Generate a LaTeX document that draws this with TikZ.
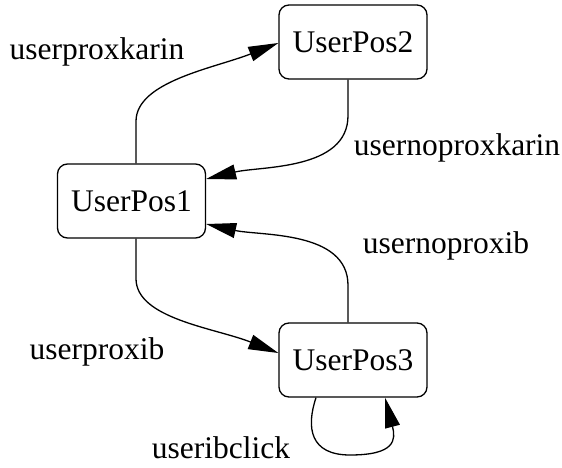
\documentclass[tikz,border=0pt]{standalone}
\usepackage{fontspec}
\setmainfont{Liberation Serif}
\usetikzlibrary{arrows.meta}
\begin{document}
\begin{tikzpicture}[x=1pt,y=-1pt,
  state/.style={draw,line width=1.3pt,rounded corners=10pt,minimum width=148pt,minimum height=74pt,inner sep=0pt,font=\fontsize{31.5}{36}\selectfont},
  lbl/.style={inner sep=0pt,font=\fontsize{31.5}{36}\selectfont},
  edge/.style={line width=1.3pt,-{Triangle[length=30pt,width=15pt]}}]
\useasboundingbox (0,0) rectangle (562,468);
\node[state] (p2) at (353,42) {UserPos2};
\node[state] (p1) at (131.5,201) {UserPos1};
\node[state] (p3) at (353,360) {UserPos3};
\node[lbl] (l1) at (97,52) {userproxkarin};
\node[lbl] (l2) at (457,148) {usernoproxkarin};
\node[lbl] (l3) at (446,246) {usernoproxib};
\node[lbl] (l4) at (97,352) {userproxib};
\node[lbl] (l5) at (221,448) {useribclick};
\draw[edge] ([xshift=4.5pt]p1.north) -- ++(0,-42) .. controls +(0,-40) and (215,68) .. ([yshift=-1pt]p2.west);
\draw[edge] ([xshift=-5pt]p2.south) -- ++(0,36) .. controls +(0,55) and (260,166) .. ([yshift=22pt]p1.east);
\draw[edge] ([xshift=4.5pt]p1.south) -- ++(0,40) .. controls +(0,40) and (215,328) .. ([yshift=7pt]p3.west);
\draw[edge] ([xshift=-5pt]p3.north) -- ++(0,-37) .. controls +(0,-55) and (260,236) .. ([yshift=-23pt]p1.east);
\draw[edge] ([xshift=-37pt]p3.south) .. controls +(-10,30) and +(-40,0) .. (350,455) .. controls +(45,0) and (396,440) .. ([xshift=32pt]p3.south);
\end{tikzpicture}
\end{document}
